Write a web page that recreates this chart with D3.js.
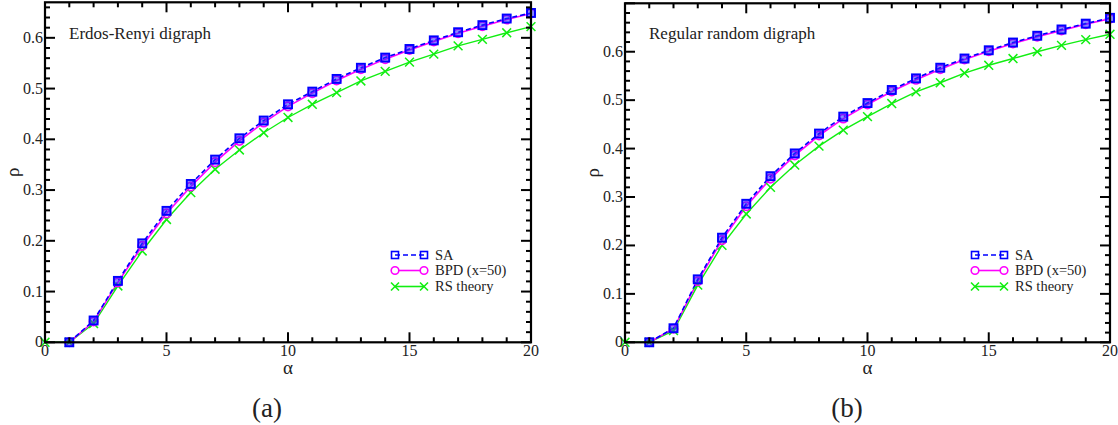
<!DOCTYPE html>
<html>
<head>
<meta charset="utf-8">
<script src="https://cdn.jsdelivr.net/npm/d3@7"></script>
<style>
  html, body { margin: 0; padding: 0; background: #fff; }
  svg { display: block; }
  text { font-family: "Liberation Serif", "Times New Roman", serif; fill: #222; }
</style>
</head>
<body>
<svg id="chart" width="1118" height="425"></svg>
<script>
// α values
const alphaSim = d3.range(1, 21);   // SA and BPD points
const alphaRS  = d3.range(0, 21);   // RS theory points

// (a) Erdos-Renyi digraph
const erSA  = [0, 0.043, 0.121, 0.195, 0.259, 0.312, 0.360, 0.402, 0.437, 0.469, 0.494, 0.519, 0.541, 0.561, 0.578, 0.595, 0.611, 0.625, 0.638, 0.649];
const erBPD = [0, 0.041, 0.118, 0.190, 0.254, 0.307, 0.355, 0.397, 0.433, 0.465, 0.491, 0.516, 0.538, 0.558, 0.576, 0.593, 0.609, 0.623, 0.636, 0.648];
const erRS  = [0, 0, 0.037, 0.111, 0.180, 0.242, 0.295, 0.341, 0.379, 0.413, 0.443, 0.469, 0.492, 0.515, 0.534, 0.552, 0.568, 0.584, 0.597, 0.610, 0.622];

// (b) Regular random digraph
const rrSA  = [0, 0.029, 0.130, 0.216, 0.286, 0.343, 0.390, 0.431, 0.466, 0.494, 0.521, 0.545, 0.567, 0.586, 0.603, 0.619, 0.633, 0.646, 0.658, 0.670];
const rrBPD = [0, 0.028, 0.126, 0.211, 0.281, 0.338, 0.386, 0.427, 0.462, 0.491, 0.518, 0.542, 0.564, 0.584, 0.601, 0.617, 0.631, 0.644, 0.657, 0.668];
const rrRS  = [0, 0, 0.024, 0.118, 0.200, 0.265, 0.320, 0.366, 0.405, 0.438, 0.466, 0.493, 0.517, 0.536, 0.556, 0.572, 0.586, 0.600, 0.613, 0.625, 0.636];

const xTicks = [0, 5, 10, 15, 20];
const yTicks = [0, 0.1, 0.2, 0.3, 0.4, 0.5, 0.6];
const seriesNames = ["SA", "BPD (x=50)", "RS theory"];

const BLUE = "#0000ff", MAGENTA = "#ff00ff", GREEN = "#11ee11";

const svg = d3.select("#chart");

function panel(cfg) {
  const g = svg.append("g");
  const x = d3.scaleLinear().domain([0, 20]).range([cfg.left, cfg.right]);
  const y = d3.scaleLinear().domain([0, cfg.yMax]).range([cfg.bottom, cfg.top]);

  const line = d3.line().x(d => x(d[0])).y(d => y(d[1]));
  const sa  = alphaSim.map((a, i) => [a, cfg.sa[i]]);
  const bpd = alphaSim.map((a, i) => [a, cfg.bpd[i]]);
  const rs  = alphaRS.map((a, i) => [a, cfg.rs[i]]);

  // curves
  g.append("path").datum(rs).attr("d", line)
    .attr("fill", "none").attr("stroke", GREEN).attr("stroke-width", 1.4);
  g.append("path").datum(bpd).attr("d", line)
    .attr("fill", "none").attr("stroke", MAGENTA).attr("stroke-width", 1.6);
  g.append("path").datum(sa).attr("d", line)
    .attr("fill", "none").attr("stroke", BLUE).attr("stroke-width", 1.6)
    .attr("stroke-dasharray", "5,3");

  // markers
  const xm = (cx, cy, s) => `M${cx - s},${cy - s}L${cx + s},${cy + s}M${cx - s},${cy + s}L${cx + s},${cy - s}`;
  g.append("g").selectAll("path").data(rs).join("path")
    .attr("d", d => xm(x(d[0]), y(d[1]), 4.4))
    .attr("stroke", GREEN).attr("stroke-width", 1.5).attr("fill", "none");
  g.append("g").selectAll("circle").data(bpd).join("circle")
    .attr("cx", d => x(d[0])).attr("cy", d => y(d[1])).attr("r", 4.2)
    .attr("fill", "none").attr("stroke", MAGENTA).attr("stroke-width", 1.7);
  g.append("g").selectAll("rect").data(sa).join("rect")
    .attr("x", d => x(d[0]) - 4).attr("y", d => y(d[1]) - 4)
    .attr("width", 8).attr("height", 8)
    .attr("fill", "rgba(40,40,255,0.55)").attr("stroke", BLUE).attr("stroke-width", 1.9);

  // frame with inward ticks on all sides
  const frame = g.append("g").attr("stroke", "#000");
  frame.append("rect")
    .attr("x", cfg.left).attr("y", cfg.top)
    .attr("width", cfg.right - cfg.left).attr("height", cfg.bottom - cfg.top)
    .attr("fill", "none").attr("stroke-width", 2.2);

  const xMinor = d3.range(0, 21);
  const yMinor = d3.range(0, Math.floor(cfg.yMax / 0.02 + 1e-6) + 1).map(i => +(i * 0.02).toFixed(2));
  const isMajorX = v => v % 5 === 0;
  const isMajorY = v => Math.abs(v * 10 - Math.round(v * 10)) < 1e-6;

  xMinor.forEach(v => {
    const len = isMajorX(v) ? 10 : 5;
    frame.append("line").attr("x1", x(v)).attr("x2", x(v))
      .attr("y1", cfg.bottom).attr("y2", cfg.bottom - len).attr("stroke-width", 2);
    frame.append("line").attr("x1", x(v)).attr("x2", x(v))
      .attr("y1", cfg.top).attr("y2", cfg.top + len).attr("stroke-width", 2);
  });
  yMinor.forEach(v => {
    const len = isMajorY(v) ? 10 : 5;
    frame.append("line").attr("y1", y(v)).attr("y2", y(v))
      .attr("x1", cfg.left).attr("x2", cfg.left + len).attr("stroke-width", 2);
    frame.append("line").attr("y1", y(v)).attr("y2", y(v))
      .attr("x1", cfg.right).attr("x2", cfg.right - len).attr("stroke-width", 2);
  });

  // tick labels
  g.append("g").selectAll("text").data(xTicks).join("text")
    .attr("x", d => x(d)).attr("y", cfg.bottom + 14)
    .attr("text-anchor", "middle").attr("font-size", 16)
    .text(d => d);
  g.append("g").selectAll("text").data(yTicks).join("text")
    .attr("x", cfg.left - 2).attr("y", d => y(d) + 5)
    .attr("text-anchor", "end").attr("font-size", 16)
    .text(d => d === 0 ? "0" : d3.format(".1f")(d));

  // axis titles
  g.append("text").attr("x", (cfg.left + cfg.right) / 2).attr("y", cfg.bottom + 32)
    .attr("text-anchor", "middle").attr("font-size", 19).text("α");
  g.append("text")
    .attr("transform", `translate(${cfg.left - 26},${(cfg.top + cfg.bottom) / 2}) rotate(-90)`)
    .attr("text-anchor", "middle").attr("font-size", 19).text("ρ");

  // panel annotation
  g.append("text").attr("x", cfg.left + 24).attr("y", 39)
    .attr("font-size", 17).text(cfg.title);

  // legend
  const lx0 = cfg.legendX, lx1 = cfg.legendX + 29, tx = cfg.legendX + 40;
  const rows = [255, 270.5, 286.5];
  const lg = g.append("g");
  // SA
  lg.append("line").attr("x1", lx0).attr("x2", lx1).attr("y1", rows[0]).attr("y2", rows[0])
    .attr("stroke", BLUE).attr("stroke-width", 1.6).attr("stroke-dasharray", "5,3");
  [lx0, lx1].forEach(px => lg.append("rect").attr("x", px - 3.5).attr("y", rows[0] - 3.5)
    .attr("width", 7).attr("height", 7).attr("fill", "none")
    .attr("stroke", BLUE).attr("stroke-width", 1.6));
  // BPD
  lg.append("line").attr("x1", lx0).attr("x2", lx1).attr("y1", rows[1]).attr("y2", rows[1])
    .attr("stroke", MAGENTA).attr("stroke-width", 1.6);
  [lx0, lx1].forEach(px => lg.append("circle").attr("cx", px).attr("cy", rows[1]).attr("r", 3.8)
    .attr("fill", "#fff").attr("stroke", MAGENTA).attr("stroke-width", 1.6));
  // RS
  lg.append("line").attr("x1", lx0).attr("x2", lx1).attr("y1", rows[2]).attr("y2", rows[2])
    .attr("stroke", GREEN).attr("stroke-width", 1.6);
  [lx0, lx1].forEach(px => lg.append("path").attr("d", xm(px, rows[2], 4))
    .attr("stroke", GREEN).attr("stroke-width", 1.6));
  lg.selectAll("text.lbl").data(seriesNames).join("text").attr("class", "lbl")
    .attr("x", tx).attr("y", (d, i) => rows[i] + 4.5)
    .attr("font-size", 14.5).text(d => d);

  // sub-figure label
  g.append("text").attr("x", cfg.subX).attr("y", 417)
    .attr("text-anchor", "middle").attr("font-size", 27)
    .text(cfg.sub);
}

panel({
  left: 45, right: 531, top: 2.3, bottom: 342.3, yMax: 0.67,
  sa: erSA, bpd: erBPD, rs: erRS,
  title: "Erdos-Renyi digraph", legendX: 395, subX: 267, sub: "(a)"
});
panel({
  left: 625, right: 1110, top: 3.3, bottom: 342.3, yMax: 0.70,
  sa: rrSA, bpd: rrBPD, rs: rrRS,
  title: "Regular random digraph", legendX: 975, subX: 847, sub: "(b)"
});
</script>
</body>
</html>
